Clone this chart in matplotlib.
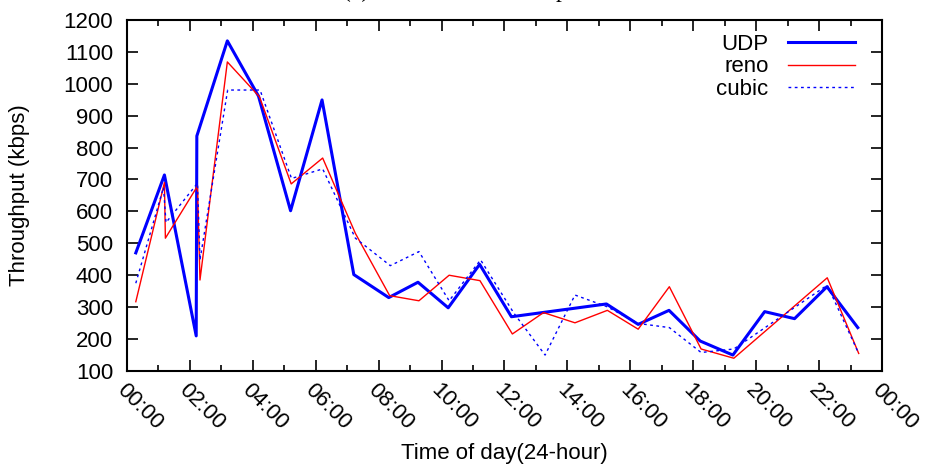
import numpy as np
import matplotlib
matplotlib.use("Agg")
import matplotlib.pyplot as plt
from matplotlib.ticker import MultipleLocator, FuncFormatter

plt.rcParams['font.family'] = ['Liberation Sans', 'DejaVu Sans']

# time of day (hours) and throughput (kbps)
udp_t = [0.28, 1.19, 2.20, 2.22, 3.19, 4.18, 5.20, 6.20, 7.21, 8.32, 9.25, 10.21,
         11.21, 12.22, 15.24, 16.25, 17.23, 18.22, 19.26, 20.27, 21.22, 22.25, 23.23]
udp_v = [470, 714, 210, 836, 1134, 961, 602, 949, 402, 330, 378, 298,
         434, 270, 310, 246, 290, 194, 150, 286, 264, 364, 236]

reno_t = [0.28, 1.19, 1.22, 2.24, 2.32, 3.19, 4.21, 5.22, 6.22, 7.26, 8.35, 9.28,
          10.24, 11.22, 12.25, 13.24, 14.24, 15.27, 16.25, 17.24, 18.25, 19.29, 22.26, 23.26]
reno_v = [317, 690, 516, 679, 385, 1068, 959, 686, 767, 531, 336, 320,
          400, 383, 216, 283, 251, 290, 231, 364, 169, 140, 392, 155]

cubic_t = [0.28, 1.16, 1.24, 2.24, 2.32, 3.20, 4.23, 5.23, 6.22, 7.26, 8.37, 9.28,
           10.24, 11.24, 12.30, 13.29, 14.24, 15.27, 16.25, 17.24, 18.25, 19.29, 22.26, 23.26]
cubic_v = [375, 675, 565, 688, 448, 980, 980, 703, 733, 516, 430, 474,
           320, 448, 281, 150, 338, 301, 249, 236, 158, 169, 369, 155]

fig = plt.figure(figsize=(9.29, 4.70), dpi=100)
ax = fig.add_axes([0.1367, 0.2106, 0.8127, 0.7473])

ax.plot(udp_t, udp_v, color='#0000ff', lw=2.2, label='UDP')
ax.plot(reno_t, reno_v, color='#ff0000', lw=1.0, label='reno')
ax.plot(cubic_t, cubic_v, color='#0000ff', lw=1.0, linestyle=(0, (2, 2.5)), label='cubic')

ax.set_xlim(0, 24)
ax.set_ylim(100, 1200)
ax.xaxis.set_major_locator(MultipleLocator(2))
ax.xaxis.set_minor_locator(MultipleLocator(1))
ax.yaxis.set_major_locator(MultipleLocator(100))
ax.xaxis.set_major_formatter(FuncFormatter(lambda v, p: '%02d:00' % (int(round(v)) % 24)))

ax.tick_params(which='both', direction='in', top=True, right=True, width=1.2, labelsize=16)
ax.tick_params(which='major', length=8)
ax.tick_params(which='minor', length=4)
ax.tick_params(axis='y', pad=10)
ax.tick_params(axis='x', pad=6)
for lab in ax.get_xticklabels():
    lab.set_rotation(-45)
    lab.set_ha('left')
    lab.set_va('top')
    lab.set_rotation_mode('anchor')
for s in ax.spines.values():
    s.set_linewidth(1.5)

ax.set_xlabel('Time of day(24-hour)', fontsize=16)
ax.set_ylabel('Throughput (kbps)', fontsize=16)
ax.xaxis.set_label_coords(0.5, -0.205)
ax.yaxis.set_label_coords(-0.128, 0.5)

leg = ax.legend(loc='upper right', frameon=False, fontsize=16, markerfirst=False,
                handlelength=3.0, handletextpad=0.9, labelspacing=0.08,
                borderaxespad=0.3, bbox_to_anchor=(0.985, 1.005))
for t in leg.get_texts():
    t.set_ha('right')
leg._legend_box.align = 'right'

fig.text(343 / 929, 1.0064, '(a) UDP and TCP comparison', family='Liberation Serif',
         fontsize=17, ha='left', va='baseline')

fig.savefig('out.png', dpi=100)
